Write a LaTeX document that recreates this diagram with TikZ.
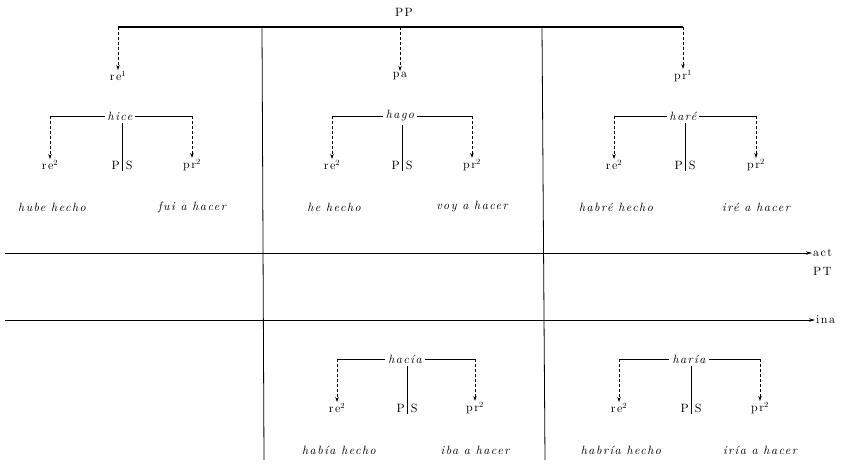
\documentclass[tikz,border=0pt]{standalone}
\usepackage{fontspec}
\setmainfont{lmroman10-regular.otf}[ItalicFont=lmroman10-italic.otf,LetterSpace=12]
\usetikzlibrary{arrows.meta,positioning}

\begin{document}
\begin{tikzpicture}[x=1pt,y=-1pt,
  every node/.style={font=\fontsize{12}{14}\selectfont},
  lab/.style={inner sep=1pt},
  verb/.style={font=\fontsize{12}{14}\selectfont\itshape,inner sep=3pt},
  gloss/.style={font=\fontsize{12}{14}\selectfont\itshape},
  branch/.style={line width=0.7pt},
  pointer/.style={line width=0.7pt,dash pattern=on 3pt off 2pt,-{Stealth[length=5pt,width=3.5pt]}},
  axis/.style={line width=0.8pt,-{Stealth[length=6pt,width=3.5pt]}}]
\useasboundingbox (0,0) rectangle (842,464);

% top level
\node[lab] (pp) at (404,12) {PP};
\coordinate (topl) at (118,27);
\coordinate (topr) at (683,27);
\draw[line width=1.2pt] (topl) -- (topr);
\node[lab] (re1) at (118,76) {re$^1$};
\node[lab] (pa) at (400,76) {pa};
\node[lab] (pr1) at (683,76) {pr$^1$};
\draw[pointer] (topl) -- (re1.north);
\draw[pointer] (pa |- topl) -- (pa.north);
\draw[pointer] (topr) -- (pr1.north);

% separators
\coordinate (sepa) at (262,27);
\coordinate (sepa end) at (264,460);
\coordinate (sepb) at (542,27);
\coordinate (sepb end) at (545,460);
\draw[line width=0.8pt] (sepa) -- (sepa end);
\draw[line width=0.8pt] (sepb) -- (sepb end);

% time axes
\node[lab,anchor=west] (act) at (812,253) {act};
\node[lab,anchor=west] (pt) at (812,271) {PT};
\node[lab,anchor=west] (ina) at (815,320) {ina};
\coordinate (act start) at (5,253);
\coordinate (ina start) at (5,320);
\draw[axis] (act start) -- (act.west);
\draw[axis] (ina start) -- (ina.west);

% tense subtrees
\foreach \n/\hx/\hy/\lx/\rx/\word/\lph/\rph in {
  a/120/116/50/192/hice/hube hecho/fui a hacer,
  b/400/116/332/472/hago/he hecho/voy a hacer,
  c/683/116/614/756/haré/habré hecho/iré a hacer,
  d/405/359/337/475/hacía/había hecho/iba a hacer,
  e/689/359/619/760/haría/habría hecho/iría a hacer}{
  \node[verb] (h\n) at (\hx,\hy) {\word};
  \node[lab] (re\n) at (\lx,\hy+49) {re$^2$};
  \node[lab] (pr\n) at (\rx,\hy+49) {pr$^2$};
  \node[lab] (ps\n) at (\hx+2,\hy+49) {P\hspace{6pt}S};
  \node[gloss] (gl\n) at (\lx+2,\hy+91) {\lph};
  \node[gloss] (gr\n) at (\rx,\hy+91) {\rph};
  \coordinate (cl\n) at (\lx,\hy);
  \coordinate (cr\n) at (\rx,\hy);
  \draw[branch] (h\n.west) -- (cl\n);
  \draw[branch] (h\n.east) -- (cr\n);
  \draw[pointer] (cl\n) -- (re\n.north);
  \draw[pointer] (cr\n) -- (pr\n.north);
  \draw[branch] (ps\n.south) -- (ps\n.south |- h\n.south);
}
\end{tikzpicture}
\end{document}
